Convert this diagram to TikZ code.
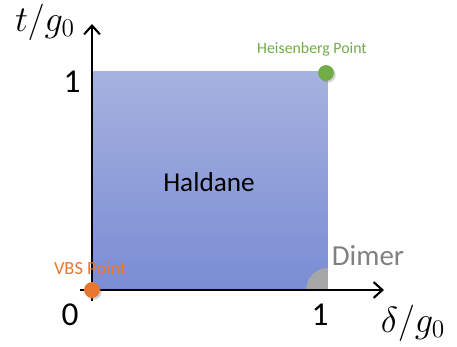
\documentclass[tikz,border=0pt]{standalone}
\usepackage{fontspec}
\setmainfont{Carlito}
\usepackage{tikz}
\usetikzlibrary{arrows.meta, positioning, shadows}
\definecolor{cPhaseTop}{RGB}{166,178,223}
\definecolor{cPhaseBot}{RGB}{122,140,212}
\definecolor{cGreen}{RGB}{112,173,71}
\definecolor{cOrange}{RGB}{232,118,46}
\definecolor{cGray}{RGB}{128,128,128}
\tikzset{
  %% axes
  axis/.style={line width=1.2pt, -{Straight Barb[length=5pt, width=9pt, line width=1.2pt]}},
  ticklabel/.style={font=\fontsize{19}{20}\selectfont},
  axislabel/.style={font=\fontsize{21}{22}\selectfont},
  %% special points
  spoint/.style={circle, inner sep=0pt, minimum size=9pt,
                 drop shadow={shadow xshift=1pt, shadow yshift=-1pt, opacity=.35}},
  spointG/.style={spoint, fill=cGreen},
  spointO/.style={spoint, fill=cOrange},
  plabel/.style={font=\fontsize{9}{10}\selectfont},
  %% phase names
  phase/.style={font=\fontsize{15.5}{17}\selectfont},
}

\begin{document}
\begin{tikzpicture}
\useasboundingbox (-1.84,-1.14) rectangle (7.30,5.80);

%% -- Haldane region --
\shade[top color=cPhaseTop, bottom color=cPhaseBot] (0,0) rectangle (4.72,4.36);
\node[phase] (hal) at (2.34,2.16) {Haldane};

%% -- Dimer corner --
\fill[gray!70] (4.72,0) -- (4.28,0) arc[start angle=180, end angle=90, radius=0.44] -- cycle;
\node[phase, font=\fontsize{16.5}{18}\selectfont, text=cGray] (dim) at (5.52,0.68) {Dimer};

%% -- axes --
\coordinate (xs) at (-0.24,0);
\coordinate (xe) at (5.84,0);
\coordinate (ys) at (0,-0.22);
\coordinate (ye) at (0,5.32);
\draw[axis] (xs) -- (xe);
\draw[axis] (ys) -- (ye);

%% -- axis labels --
\node[axislabel] (tlab) at (-0.94,5.36) {$t/g_0$};
\node[axislabel] (dlab) at (6.42,-0.66) {$\delta/g_0$};
\node[ticklabel] (y1) at (-0.4,4.16) {1};
\node[ticklabel] (x0) at (-0.44,-0.5) {0};
\node[ticklabel] (x1) at (4.56,-0.5) {1};

%% -- special points --
\node[spointG] (heis) at (4.68,4.34) {};
\node[plabel, text=cGreen] (heisl) at (4.40,4.82) {Heisenberg Point};
\node[spointO] (vbs) at (0,0) {};
\node[plabel, font=\fontsize{10.5}{12}\selectfont, text=cOrange] (vbsl) at (-0.04,0.44) {VBS Point};

\end{tikzpicture}
\end{document}
